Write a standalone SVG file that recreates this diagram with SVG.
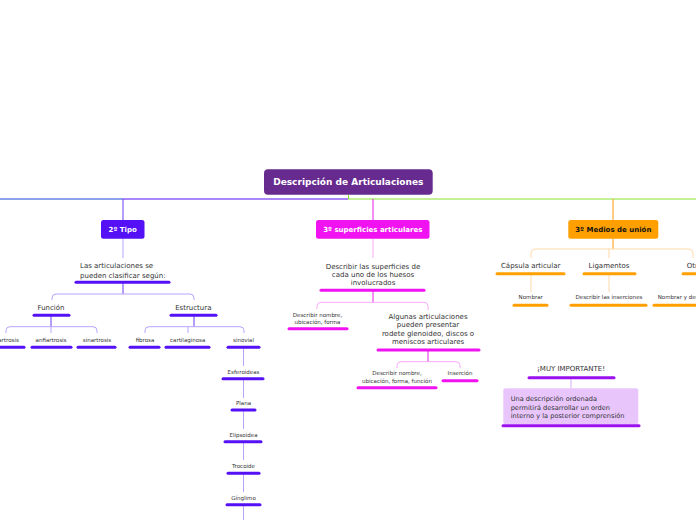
<svg xmlns="http://www.w3.org/2000/svg" width="696" height="520" viewBox="0 0 696 520">
<style>
text{font-family:"DejaVu Sans",Verdana,sans-serif;fill:#333;text-anchor:middle}
.t7{font-size:7px}
.t5{font-size:5.5px}
.tb{font-size:6.6px;text-anchor:start}
.nt{font-weight:bold;font-size:7px;fill:#fff}
.ul{stroke-width:3;stroke-linecap:round;fill:none}
.up{stroke:#5511f5}
.um{stroke:#f012f0}
.uo{stroke:#ffa000}
.uv{stroke:#9b10ee}
.c{fill:none;stroke-width:1}
.lp{stroke:#b8a4ff}
.dp{stroke:#6a3cf2}
.lm{stroke:#f8aaf8}
.dm{stroke:#e820e8}
.lo{stroke:#ffd9a8}
.do{stroke:#ff9a10}
</style>
<g id="connectors">
<line class="c" x1="0" y1="199" x2="123" y2="199" stroke="#1a44d6"/>
<line class="c" x1="123" y1="199" x2="348" y2="199" stroke="#5511f5"/>
<line class="c" x1="348" y1="199" x2="696" y2="199" stroke="#88e030"/>
<line class="c" x1="348.5" y1="194.7" x2="348.5" y2="199" stroke="#88e030"/>
<path class="c dp" d="M123,199 V220"/>
<path class="c dm" d="M373,199 V220"/>
<path class="c do" d="M613,199 V220"/>
<!-- 2 tipo -->
<path class="c lp" d="M123,238.7 V258"/>
<path class="c dp" d="M123,282.3 V294"/>
<path class="c lp" d="M56,294 H190 Q194,294 194,298 V300 M56,294 Q52,294 52,298 V300"/>
<path class="c dp" d="M51,315.3 V326.7"/>
<path class="c lp" d="M10,326.7 H93 Q97,326.7 97,330.7 V333 M10,326.7 Q6,326.7 6,330.7 V333 M51,326.7 V333"/>
<path class="c dp" d="M194,315.3 V326.7"/>
<path class="c lp" d="M149,326.7 H240 Q244,326.7 244,330.7 V333 M149,326.7 Q145,326.7 145,330.7 V333 M188,326.7 V333"/>
<path class="c lp" d="M243.5,347.3 V366 M243.5,378.7 V398 M243.5,410 V429 M243.5,441.7 V460 M243.5,473.3 V492 M243.5,504.7 V520"/>
<!-- superficies -->
<path class="c lm" d="M373,238.7 V258"/>
<path class="c dm" d="M373,290.3 V302.3"/>
<path class="c lm" d="M321,302.3 H424 Q428,302.3 428,306.3 V310 M321,302.3 Q317,302.3 317,306.3 V309"/>
<path class="c dm" d="M428,350 V361.7"/>
<path class="c lm" d="M401,361.7 H456 Q460,361.7 460,365.7 V368 M401,361.7 Q397,361.7 397,365.7 V368"/>
<!-- medios -->
<path class="c do" d="M613,238.7 V249"/>
<path class="c lo" d="M535,249 H689 Q693,249 693,253 V258 M535,249 Q531,249 531,253 V258 M609,249 V258"/>
<path class="c lo" d="M531,273.7 V292 M609,273.7 V292"/>
<!-- floating -->
<path class="c" stroke="#d4aef2" d="M571,377.7 V388.3"/>
</g>
<g id="root">
<rect x="264" y="169.3" width="168.7" height="25.4" rx="4" fill="#672b8f"/>
<text x="348.3" y="185.3" style="font-weight:bold;font-size:9px;fill:#fff">Descripción de Articulaciones</text>
</g>
<g id="n-tipo">
<rect x="101" y="220" width="43.5" height="18.7" rx="2.5" fill="#5511f5"/>
<text class="nt" x="122.7" y="231.8">2º Tipo</text>
</g>
<g id="n-clasificar">
<text class="t7" style="text-anchor:start" x="80" y="268.2">Las articulaciones se</text>
<text class="t7" style="text-anchor:start" x="80" y="277.5">pueden clasificar según:</text>
<line class="ul up" x1="76" y1="282.3" x2="169" y2="282.3"/>
</g>
<g id="n-funcion">
<text class="t7" x="51" y="309.5">Función</text>
<line class="ul up" x1="34" y1="315.3" x2="69" y2="315.3"/>
</g>
<g id="n-diartrosis">
<text class="t5" x="6" y="342">diartrosis</text>
<line class="ul up" x1="-12" y1="347.3" x2="24" y2="347.3"/>
</g>
<g id="n-anfiartrosis">
<text class="t5" x="51" y="342">anfiartrosis</text>
<line class="ul up" x1="32" y1="347.3" x2="71" y2="347.3"/>
</g>
<g id="n-sinartrosis">
<text class="t5" x="97" y="342">sinartrosis</text>
<line class="ul up" x1="78" y1="347.3" x2="115" y2="347.3"/>
</g>
<g id="n-estructura">
<text class="t7" x="193.3" y="309.5">Estructura</text>
<line class="ul up" x1="171" y1="315.3" x2="216" y2="315.3"/>
</g>
<g id="n-fibrosa">
<text class="t5" x="145" y="342">fibrosa</text>
<line class="ul up" x1="130" y1="347.3" x2="159" y2="347.3"/>
</g>
<g id="n-cartilaginosa">
<text class="t5" x="187.7" y="342">cartilaginosa</text>
<line class="ul up" x1="166" y1="347.3" x2="209" y2="347.3"/>
</g>
<g id="n-sinovial">
<text class="t5" x="243.5" y="342">sinovial</text>
<line class="ul up" x1="228" y1="347.3" x2="259" y2="347.3"/>
</g>
<g id="n-esferoideas">
<text class="t5" x="243.5" y="374.3">Esferoideas</text>
<line class="ul up" x1="223" y1="378.7" x2="263" y2="378.7"/>
</g>
<g id="n-plana">
<text class="t5" x="243.5" y="405">Plana</text>
<line class="ul up" x1="232" y1="410" x2="255" y2="410"/>
</g>
<g id="n-elipsoidea">
<text class="t5" x="243.5" y="437">Elipsoidea</text>
<line class="ul up" x1="225" y1="441.7" x2="261" y2="441.7"/>
</g>
<g id="n-trocoide">
<text class="t5" x="243.5" y="468">Trocoide</text>
<line class="ul up" x1="228" y1="473.3" x2="259" y2="473.3"/>
</g>
<g id="n-ginglimo">
<text class="t5" x="243.5" y="499.7">Gínglimo</text>
<line class="ul up" x1="227" y1="504.7" x2="260" y2="504.7"/>
</g>
<g id="n-superficies">
<rect x="316" y="220" width="113.5" height="18.7" rx="2.5" fill="#f012f0"/>
<text class="nt" x="372.8" y="231.8">3º superficies articulares</text>
</g>
<g id="n-describir-sup">
<text class="t7" x="373" y="268.8">Describir las superficies de</text>
<text class="t7" x="373" y="277.2">cada uno de los huesos</text>
<text class="t7" x="373" y="285.4">involucrados</text>
<line class="ul um" x1="321" y1="290.3" x2="424" y2="290.3"/>
</g>
<g id="n-desc-nombre">
<text class="t5" x="317.5" y="317">Describir nombre,</text>
<text class="t5" x="317.5" y="324.4">ubicación, forma</text>
<line class="ul um" x1="289" y1="328.7" x2="347" y2="328.7"/>
</g>
<g id="n-algunas">
<text class="t7" x="428" y="318.5">Algunas articulaciones</text>
<text class="t7" x="428" y="326.9">pueden presentar</text>
<text class="t7" x="428" y="335.8">rodete glenoideo, discos o</text>
<text class="t7" x="428" y="344.2">meniscos articulares</text>
<line class="ul um" x1="378" y1="350" x2="479" y2="350"/>
</g>
<g id="n-desc-funcion">
<text class="t5" x="397" y="375.3">Describir nombre,</text>
<text class="t5" x="397" y="382.7">ubicación, forma, función</text>
<line class="ul um" x1="358" y1="387.7" x2="436" y2="387.7"/>
</g>
<g id="n-insercion">
<text class="t5" x="460" y="375.3">Inserción</text>
<line class="ul um" x1="443" y1="380.7" x2="477" y2="380.7"/>
</g>
<g id="n-medios">
<rect x="568.3" y="220" width="90" height="18.7" rx="2.5" fill="#ffa000"/>
<text class="nt" style="fill:#111" x="613.3" y="231.8">3º Medios de unión</text>
</g>
<g id="n-capsula">
<text class="t7" x="530.7" y="267.8">Cápsula articular</text>
<line class="ul uo" x1="497" y1="273.7" x2="564" y2="273.7"/>
</g>
<g id="n-ligamentos">
<text class="t7" x="609" y="267.8">Ligamentos</text>
<line class="ul uo" x1="584" y1="273.7" x2="635" y2="273.7"/>
</g>
<g id="n-otros">
<text class="t7" style="text-anchor:start" x="686.7" y="267.8">Otros</text>
<line class="ul uo" x1="683" y1="273.7" x2="710" y2="273.7"/>
</g>
<g id="n-nombrar">
<text class="t5" x="530.7" y="299.3">Nombrar</text>
<line class="ul uo" x1="514" y1="305.3" x2="547" y2="305.3"/>
</g>
<g id="n-inserciones">
<text class="t5" x="609" y="299.3">Describir las inserciones</text>
<line class="ul uo" x1="571" y1="305.3" x2="646" y2="305.3"/>
</g>
<g id="n-nombrar-desc">
<text class="t5" style="text-anchor:start" x="657.7" y="299.3">Nombrar y describir</text>
<line class="ul uo" x1="654" y1="305.3" x2="710" y2="305.3"/>
</g>
<g id="n-importante">
<text class="t7" x="571" y="370.8">¡MUY IMPORTANTE!</text>
<line class="ul uv" x1="529" y1="377.7" x2="614" y2="377.7"/>
</g>
<g id="n-nota">
<rect x="503.3" y="388.3" width="135" height="36" rx="2" fill="#e8c6fb"/>
<text class="tb" x="510.7" y="401">Una descripción ordenada</text>
<text class="tb" x="510.7" y="409.5">permitirá desarrollar un orden</text>
<text class="tb" x="510.7" y="418">interno y la posterior comprensión</text>
<line class="ul uv" x1="503" y1="425.7" x2="639" y2="425.7"/>
</g>
</svg>
